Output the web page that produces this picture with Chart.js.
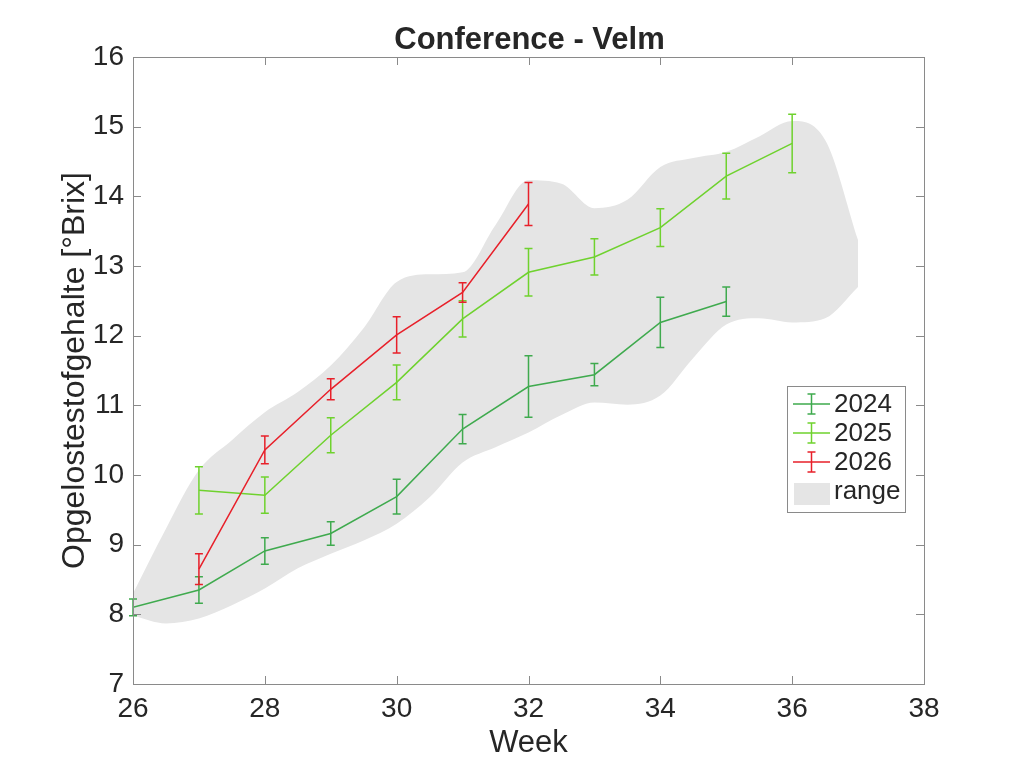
<!DOCTYPE html>
<html>
<head>
<meta charset="utf-8">
<title>Conference - Velm</title>
<script src="https://cdn.jsdelivr.net/npm/chart.js@4/dist/chart.umd.min.js"></script>
<style>
  html, body { margin: 0; padding: 0; background: #fff; }
  canvas { display: block; }
</style>
</head>
<body>
<canvas id="brix" width="1024" height="768"></canvas>
<script>
// weekly brix measurements (mean and error) per season
var weeks2024 = [26, 27, 28, 29, 30, 31, 32, 33, 34, 35];
var brix2024 = [8.10, 8.35, 8.91, 9.16, 9.69, 10.66, 11.27, 11.44, 12.19, 12.49];
var err2024 = [0.12, 0.19, 0.19, 0.17, 0.25, 0.21, 0.44, 0.16, 0.36, 0.21];

var weeks2025 = [27, 28, 29, 30, 31, 32, 33, 34, 35, 36];
var brix2025 = [9.78, 9.71, 10.57, 11.33, 12.24, 12.91, 13.13, 13.55, 14.29, 14.76];
var err2025 = [0.34, 0.26, 0.25, 0.25, 0.26, 0.34, 0.26, 0.27, 0.33, 0.42];

var weeks2026 = [27, 28, 29, 30, 31, 32];
var brix2026 = [8.65, 10.36, 11.23, 12.01, 12.62, 13.89];
var err2026 = [0.22, 0.20, 0.15, 0.26, 0.14, 0.31];

// historic range (upper and lower edge of the grey band)
var rangeWeeks = [26, 26.5, 27, 27.5, 28, 28.5, 29, 29.5, 30, 30.5, 31, 31.5,
                  32, 32.5, 33, 33.5, 34, 34.5, 35, 35.5, 36, 36.5, 37];
var rangeMax = [8.30, 9.23, 10.07, 10.50, 10.90, 11.19, 11.57, 12.11, 12.77, 12.88, 12.91, 13.59,
                14.23, 14.18, 13.83, 13.95, 14.42, 14.55, 14.64, 14.86, 15.08, 14.81, 13.37];
var rangeMin = [7.98, 7.87, 7.94, 8.13, 8.37, 8.66, 8.87, 9.06, 9.30, 9.68, 10.18, 10.40,
                10.61, 10.86, 11.04, 11.01, 11.14, 11.68, 12.16, 12.25, 12.19, 12.25, 12.70];

var xTicks = [26, 28, 30, 32, 34, 36, 38];
var yTicks = [7, 8, 9, 10, 11, 12, 13, 14, 15, 16];

var seriesNames = ['2024', '2025', '2026'];
var colors = ['#3faa4e', '#6fd22e', '#e8202a'];
var bandColor = '#e5e5e5';
var axisColor = '#8a8a8a';
var textColor = '#262626';
var font = '"Liberation Sans", Arial, Helvetica, sans-serif';

function pts(xs, ys) {
    return xs.map(function (x, i) { return { x: x, y: ys[i] }; });
}

var errors = [err2024, err2025, err2026];

// error bars with caps, drawn right after each series line
var errorBars = {
    id: 'errorBars',
    afterDatasetDraw: function (chart, args) {
        var i = args.index;
        if (i > 2) return;
        var ctx = chart.ctx;
        var xs = chart.scales.x, ys = chart.scales.y;
        var ds = chart.data.datasets[i];
        ctx.save();
        ctx.strokeStyle = colors[i];
        ctx.lineWidth = 1.5;
        ds.data.forEach(function (p, j) {
            var px = xs.getPixelForValue(p.x);
            var top = ys.getPixelForValue(p.y + errors[i][j]);
            var bot = ys.getPixelForValue(p.y - errors[i][j]);
            ctx.beginPath();
            ctx.moveTo(px, top); ctx.lineTo(px, bot);
            ctx.moveTo(px - 4, top); ctx.lineTo(px + 4, top);
            ctx.moveTo(px - 4, bot); ctx.lineTo(px + 4, bot);
            ctx.stroke();
        });
        ctx.restore();
    }
};

// matlab style box with inward ticks, title and legend
var frame = {
    id: 'frame',
    afterDraw: function (chart) {
        var ctx = chart.ctx, a = chart.chartArea;
        var xs = chart.scales.x, ys = chart.scales.y;
        ctx.save();
        ctx.strokeStyle = axisColor;
        ctx.lineWidth = 1;
        ctx.strokeRect(a.left + 0.5, a.top + 0.5, a.right - a.left, a.bottom - a.top);
        ctx.beginPath();
        xTicks.forEach(function (t) {
            var px = Math.round(xs.getPixelForValue(t)) + 0.5;
            ctx.moveTo(px, a.bottom); ctx.lineTo(px, a.bottom - 8);
            ctx.moveTo(px, a.top); ctx.lineTo(px, a.top + 8);
        });
        yTicks.forEach(function (t) {
            var py = Math.round(ys.getPixelForValue(t)) + 0.5;
            ctx.moveTo(a.left, py); ctx.lineTo(a.left + 8, py);
            ctx.moveTo(a.right, py); ctx.lineTo(a.right - 8, py);
        });
        ctx.stroke();

        // title
        ctx.fillStyle = textColor;
        ctx.font = 'bold 31px ' + font;
        ctx.textAlign = 'center';
        ctx.textBaseline = 'alphabetic';
        ctx.fillText('Conference - Velm', (a.left + a.right) / 2 + 1, 49);

        // legend
        var lx = 787, ly = 386, lw = 118, lh = 126;
        ctx.fillStyle = '#fff';
        ctx.fillRect(lx, ly, lw, lh);
        ctx.strokeStyle = axisColor;
        ctx.strokeRect(lx + 0.5, ly + 0.5, lw, lh);
        ctx.font = '26px ' + font;
        ctx.textAlign = 'left';
        ctx.textBaseline = 'middle';
        var rows = [404, 433, 462];
        seriesNames.forEach(function (name, i) {
            var y = rows[i];
            ctx.strokeStyle = colors[i];
            ctx.lineWidth = 1.5;
            ctx.beginPath();
            ctx.moveTo(793, y); ctx.lineTo(830, y);
            ctx.moveTo(811.5, y - 10); ctx.lineTo(811.5, y + 10);
            ctx.moveTo(807.5, y - 10); ctx.lineTo(815.5, y - 10);
            ctx.moveTo(807.5, y + 10); ctx.lineTo(815.5, y + 10);
            ctx.stroke();
            ctx.fillStyle = textColor;
            ctx.fillText(name, 834, y + 1);
        });
        ctx.fillStyle = bandColor;
        ctx.fillRect(794, 483, 36, 22);
        ctx.fillStyle = textColor;
        ctx.fillText('range', 834, 492);
        ctx.restore();
    }
};

var ctx = document.getElementById('brix').getContext('2d');

var chart = new Chart(ctx, {
    type: 'line',
    data: {
        datasets: [
            { label: '2024', data: pts(weeks2024, brix2024), borderColor: colors[0], borderWidth: 1.5, pointRadius: 0, fill: false, order: 3 },
            { label: '2025', data: pts(weeks2025, brix2025), borderColor: colors[1], borderWidth: 1.5, pointRadius: 0, fill: false, order: 2 },
            { label: '2026', data: pts(weeks2026, brix2026), borderColor: colors[2], borderWidth: 1.5, pointRadius: 0, fill: false, order: 1 },
            { label: 'range', data: pts(rangeWeeks, rangeMax), borderWidth: 0, borderColor: bandColor, backgroundColor: bandColor,
              pointRadius: 0, fill: '+1', cubicInterpolationMode: 'monotone', order: 10 },
            { label: 'rangeMin', data: pts(rangeWeeks, rangeMin), borderWidth: 0, borderColor: bandColor, backgroundColor: bandColor,
              pointRadius: 0, fill: false, cubicInterpolationMode: 'monotone', order: 11 }
        ]
    },
    options: {
        responsive: false,
        animation: false,
        devicePixelRatio: 1,
        layout: { padding: { left: 0, top: 57, right: 100, bottom: 0 } },
        plugins: {
            legend: { display: false },
            tooltip: { enabled: false },
            title: { display: false }
        },
        scales: {
            x: {
                type: 'linear',
                min: 26, max: 38,
                afterBuildTicks: function (s) { s.ticks = xTicks.map(function (v) { return { value: v }; }); },
                afterFit: function (s) { s.height = 84; },
                grid: { display: false, drawTicks: false },
                border: { display: false },
                ticks: { padding: 8, color: textColor, font: { family: font, size: 28 }, maxRotation: 0 },
                title: { display: true, text: 'Week', color: textColor, font: { family: font, size: 31 }, padding: { top: 0, bottom: 6 } }
            },
            y: {
                type: 'linear',
                min: 7, max: 16,
                afterBuildTicks: function (s) { s.ticks = yTicks.map(function (v) { return { value: v }; }); },
                afterFit: function (s) { s.width = 133; },
                grid: { display: false, drawTicks: false },
                border: { display: false },
                ticks: { padding: 9, color: textColor, font: { family: font, size: 28 } },
                title: { display: true, text: 'Opgelostestofgehalte [°Brix]', color: textColor, font: { family: font, size: 32 }, padding: { top: 56, bottom: 0 } }
            }
        }
    },
    plugins: [errorBars, frame]
});
</script>
</body>
</html>
